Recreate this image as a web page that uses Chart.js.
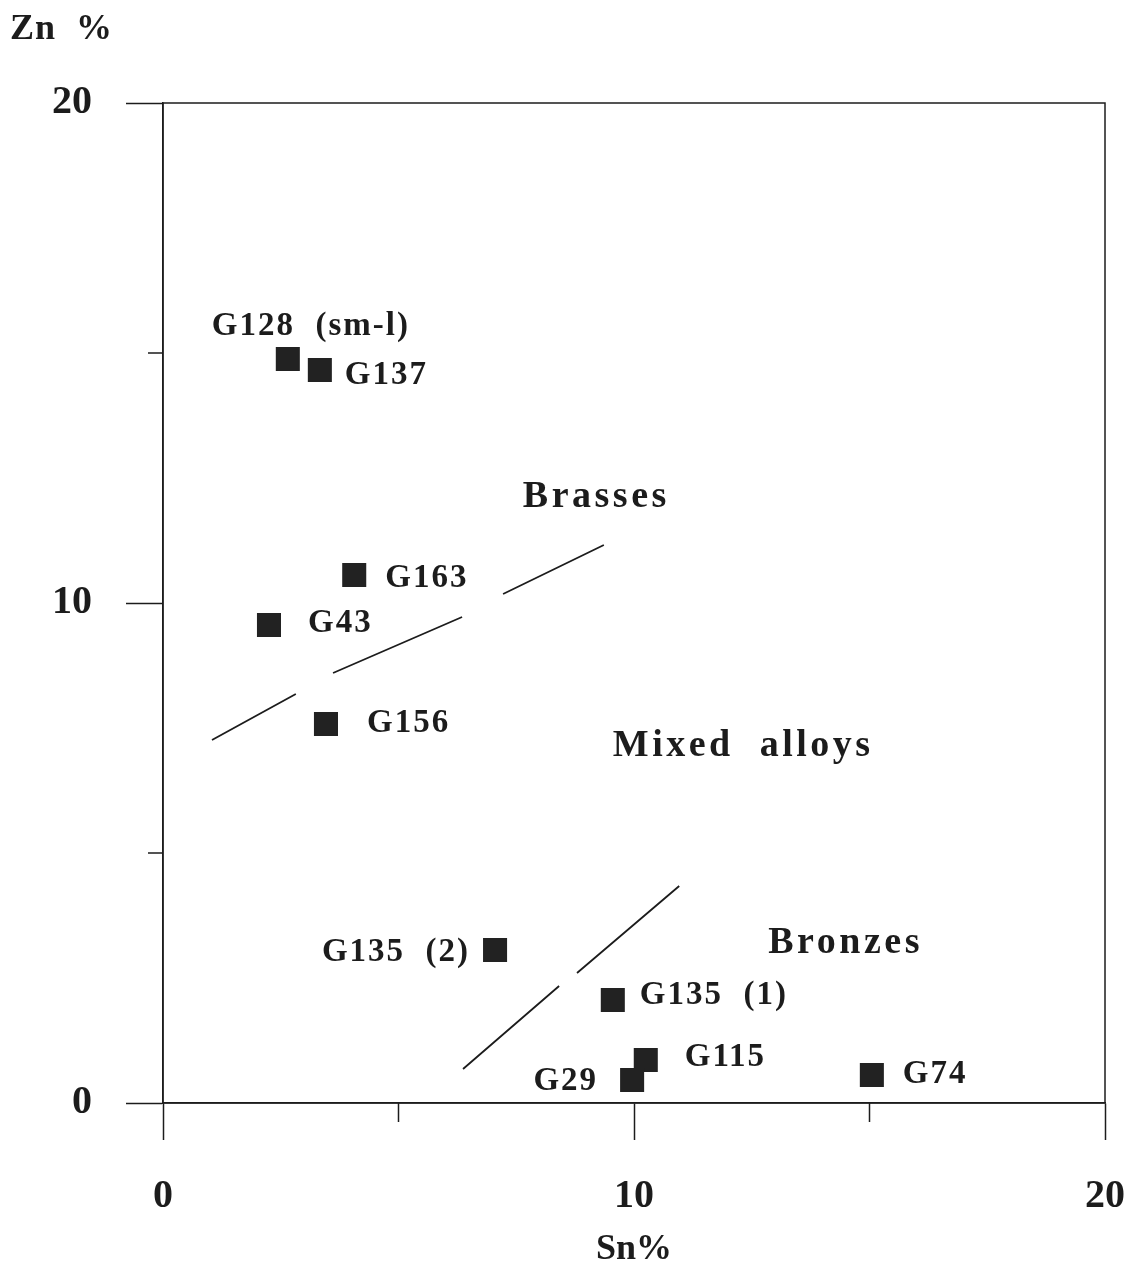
<!DOCTYPE html>
<html>
<head>
<meta charset="utf-8">
<title>Zn % vs Sn %</title>
<script src="https://cdn.jsdelivr.net/npm/chart.js@4/dist/chart.umd.min.js"></script>
<style>
    html, body { margin: 0; padding: 0; background: #fff; }
    canvas { display: block; }
</style>
</head>
<body>
<canvas id="alloyChart" width="1133" height="1271"></canvas>
<script>
// Samples (Sn % on x, Zn % on y)
const sampleNames = ['G128  (sm-l)', 'G137', 'G163', 'G43', 'G156', 'G135  (2)', 'G135  (1)', 'G115', 'G29', 'G74'];
const snValues = [2.65, 3.33, 4.06, 2.25, 3.46, 7.05, 9.55, 10.25, 9.96, 15.05];
const znValues = [14.88, 14.66, 10.56, 9.56, 7.58, 3.06, 2.06, 0.86, 0.46, 0.56];

// Hand-drawn boundaries, null = gap in the pen stroke
const brassLineSn = [1.04, 2.82, null, 3.61, 6.35, null, 7.22, 9.36];
const brassLineZn = [7.26, 8.18, null, 8.60, 9.72, null, 10.18, 11.16];
const bronzeLineSn = [6.37, 8.41, null, 8.79, 10.96];
const bronzeLineZn = [0.68, 2.34, null, 2.60, 4.34];

// Region names and where they sit (in data units)
const regionNames = ['Brasses', 'Mixed  alloys', 'Bronzes'];
const regionSn = [7.64, 9.55, 12.85];
const regionZn = [12.12, 7.14, 3.20];

// Axis ticks
const majorTicks = [0, 10, 20];
const minorTicks = [5, 15];

// Label placement next to each marker (pixels)
const labelDx = [-76, 25, 31, 39, 41, -25, 27, 39, -34, 31];
const labelDy = [-33, 5, 3, -2, -1, 2, -5, -3, 1, -1];
const labelAlign = ['left', 'left', 'left', 'left', 'left', 'right', 'left', 'left', 'right', 'left'];

const ink = '#1c1c1c';
const serif = '"Liberation Serif", "Times New Roman", serif';

function toPoints(xs, ys) {
    return xs.map((v, i) => ({ x: v, y: ys[i] }));
}

function writeText(ctx, text, x, y, size, align, spacing) {
    ctx.font = `bold ${size}px ${serif}`;
    ctx.letterSpacing = spacing + 'px';
    ctx.textAlign = align;
    ctx.textBaseline = 'middle';
    ctx.fillText(text, x, y);
}

const annotations = {
    id: 'annotations',
    afterDraw(chart) {
        const { ctx, chartArea: area, scales: { x, y } } = chart;
        ctx.save();
        ctx.strokeStyle = ink;
        ctx.fillStyle = ink;
        ctx.lineWidth = 1.5;

        // box round the plot
        ctx.strokeRect(area.left, area.top, area.right - area.left, area.bottom - area.top);

        // short ticks at 5 and 15
        ctx.beginPath();
        minorTicks.forEach(v => {
            const px = x.getPixelForValue(v);
            ctx.moveTo(px, area.bottom);
            ctx.lineTo(px, area.bottom + 19);
            const py = y.getPixelForValue(v);
            ctx.moveTo(area.left - 15, py);
            ctx.lineTo(area.left, py);
        });
        ctx.stroke();

        // sample labels
        sampleNames.forEach((name, i) => {
            const px = x.getPixelForValue(snValues[i]) + labelDx[i];
            const py = y.getPixelForValue(znValues[i]) + labelDy[i];
            writeText(ctx, name, px, py, 33, labelAlign[i], 2);
        });

        // region names
        regionNames.forEach((name, i) => {
            writeText(ctx, name, x.getPixelForValue(regionSn[i]), y.getPixelForValue(regionZn[i]), 38, 'left', 3.5);
        });

        // y axis title, top left
        writeText(ctx, 'Zn  %', 10, area.top - 73, 36, 'left', 1);
        ctx.restore();
    }
};

function boundaryDataset(xs, ys) {
    return {
        type: 'line',
        data: toPoints(xs, ys),
        borderColor: ink,
        borderWidth: 1.8,
        pointRadius: 0,
        spanGaps: false,
        fill: false
    };
}

function axisOptions(title) {
    return {
        type: 'linear',
        min: 0,
        max: 20,
        ticks: {
            stepSize: 5,
            color: ink,
            font: { family: serif, size: 40, weight: 'bold' },
            callback: v => majorTicks.includes(v) ? String(v) : ''
        },
        grid: {
            drawOnChartArea: false,
            tickLength: 37,
            tickWidth: 1.5,
            tickColor: c => (c.tick && majorTicks.includes(c.tick.value)) ? ink : 'rgba(0,0,0,0)'
        },
        border: { display: true, color: ink, width: 1.5 },
        title: title
    };
}

const xAxis = axisOptions({
    display: true,
    text: 'Sn%',
    color: ink,
    font: { family: serif, size: 36, weight: 'bold' },
    padding: { top: 0, bottom: 0 }
});
xAxis.ticks.padding = 33;
xAxis.afterFit = scale => {
    scale.height = 168;
    scale.paddingLeft = 0;
    scale.paddingRight = 0;
};

const yAxis = axisOptions({ display: false });
yAxis.ticks.padding = 34;
yAxis.afterFit = scale => {
    scale.width = 163;
    scale.paddingTop = 0;
    scale.paddingBottom = 0;
};

new Chart(document.getElementById('alloyChart').getContext('2d'), {
    type: 'scatter',
    data: {
        datasets: [
            {
                label: 'Samples',
                data: toPoints(snValues, znValues),
                pointStyle: 'rect',
                pointRadius: 17,
                pointHoverRadius: 17,
                backgroundColor: '#222',
                borderWidth: 0
            },
            boundaryDataset(brassLineSn, brassLineZn),
            boundaryDataset(bronzeLineSn, bronzeLineZn)
        ]
    },
    options: {
        responsive: false,
        animation: false,
        devicePixelRatio: 1,
        layout: { padding: { top: 103, right: 28, left: 0, bottom: 0 } },
        plugins: { legend: { display: false }, tooltip: { enabled: false } },
        scales: { x: xAxis, y: yAxis }
    },
    plugins: [annotations]
});
</script>
</body>
</html>
